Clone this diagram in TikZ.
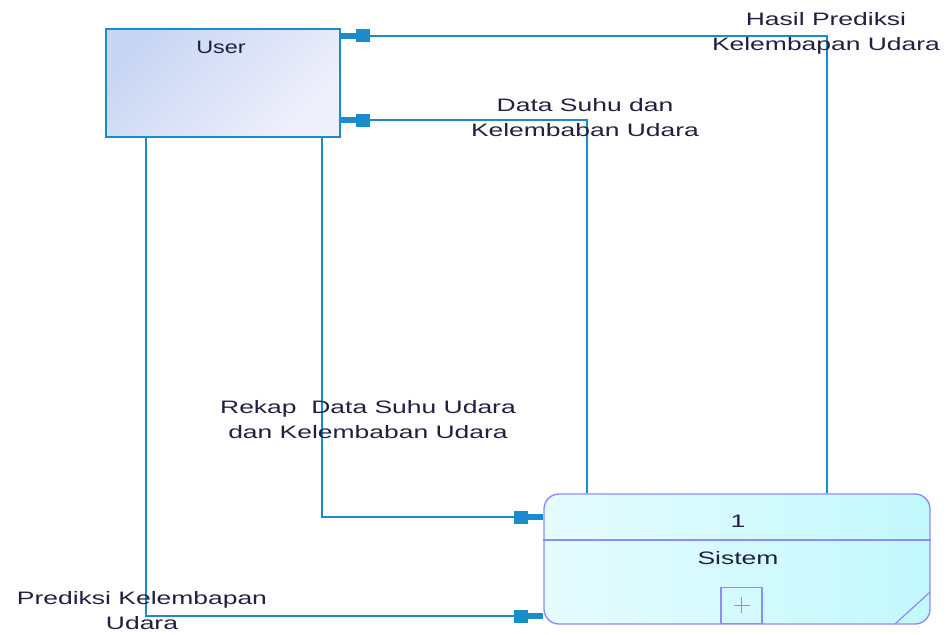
\documentclass[tikz,border=0pt]{standalone}
\usepackage{fontspec}
\setmainfont{Liberation Sans}
\usepackage{graphicx}
\usetikzlibrary{arrows.meta}
\definecolor{flowc}{HTML}{1A8CCC}
\definecolor{procc}{HTML}{8C8CFF}
\definecolor{txtc}{HTML}{202040}
\definecolor{ent1}{HTML}{C8D6F4}
\definecolor{ent2}{HTML}{F0F0FC}
\definecolor{pro1}{HTML}{E6FCFF}
\definecolor{pro2}{HTML}{C2F8FC}
\newcommand\sx[1]{\scalebox{1.47}[1]{#1}}
\tikzset{
  flow/.style={draw=flowc, line width=1.6pt,
    -{Rectangle[length=14pt,width=13pt,sep=0pt]Rectangle[length=15pt,width=6pt,sep=0pt]}},
  lbl/.style={text=txtc, align=center, inner sep=0pt, font=\fontsize{18}{25}\selectfont},
  entity/.style={draw=flowc, line width=1.8pt, shading=axis, left color=ent1, right color=ent2, shading angle=45,
    minimum width=234pt, minimum height=108pt, inner sep=0pt},
  proc/.style={draw=procc, line width=1.4pt, rounded corners=15pt, left color=pro1, right color=pro2,
    minimum width=386pt, minimum height=130pt, inner sep=0pt},
}
\begin{document}
\begin{tikzpicture}[x=1pt,y=-1pt]
\useasboundingbox (0,0) rectangle (949,634);
% entity
\node[entity] (user) at (223,83) {};
\node[lbl, anchor=center] (usertxt) at (221,47) {\scalebox{1.3}[1]{User}};
% process
\node[proc] (sis) at (737,559) {};
\draw[procc, line width=1.4pt] (sis.west |- 0,540) coordinate (dl) -- (sis.east |- 0,540) coordinate (dr);
\node[lbl] (num) at (738,521) {\sx{1}};
\node[lbl] (sistxt) at (738,558) {\sx{Sistem}};
\node[draw=procc, line width=1.4pt, minimum width=41pt, minimum height=36pt, inner sep=0pt, anchor=south] (plus) at (741.5,624) {};
\draw[procc, line width=1.2pt] ([xshift=-8pt]plus.center) -- ([xshift=8pt]plus.center)
  ([yshift=-8pt]plus.center) -- ([yshift=8pt]plus.center);
\coordinate (cd1) at (895,624);
\coordinate (cd2) at (930,592);
\draw[procc, line width=1.2pt] (cd1) -- (cd2);
% bend coordinates
\coordinate (b1) at (827,36);
\coordinate (b2) at (587,120);
\coordinate (b3) at (322,517);
\coordinate (b4) at (146,616);
% flows
\draw[flow] (sis.north -| b1) |- (user.east |- b1);
\draw[flow] (sis.north -| b2) |- (user.east |- b2);
\draw[flow] (user.south -| b3) |- (sis.west |- b3);
\draw[flow] (user.south -| b4) |- (sis.west |- b4);
% labels
\node[lbl] (l1) at (826,33) {\sx{Hasil Prediksi}\\\sx{Kelembapan Udara}};
\node[lbl] (l2) at (585,118) {\sx{Data Suhu dan}\\\sx{Kelembaban Udara}};
\node[lbl] (l3) at (368,420) {\sx{Rekap\ \ Data Suhu Udara}\\\sx{dan Kelembaban Udara}};
\node[lbl] (l4) at (142,611) {\sx{Prediksi Kelembapan}\\\sx{Udara}};
\end{tikzpicture}
\end{document}
